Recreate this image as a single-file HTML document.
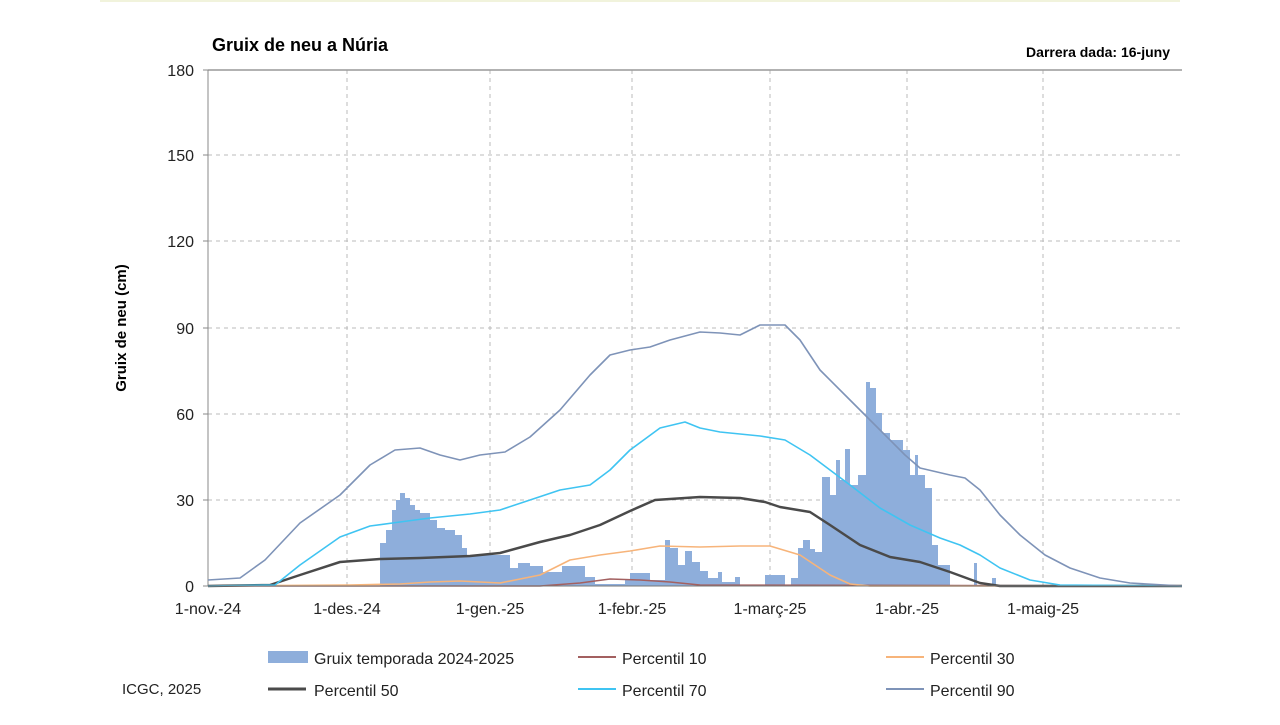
<!DOCTYPE html>
<html><head><meta charset="utf-8"><style>
body{margin:0;background:#fff;width:1280px;height:720px;overflow:hidden;font-family:"Liberation Sans",Arial,sans-serif}
</style></head><body>
<svg width="1280" height="720" xmlns="http://www.w3.org/2000/svg" font-family="Liberation Sans, Arial, sans-serif">
<line x1="100" y1="1" x2="1180" y2="1" stroke="#f1f3dc" stroke-width="2"/>
<text x="212" y="51" font-size="18" font-weight="bold" fill="#000">Gruix de neu a Núria</text>
<text x="1170" y="57" font-size="14" font-weight="bold" text-anchor="end" fill="#000">Darrera dada: 16-juny</text>
<g stroke="#bbb" stroke-dasharray="4,4" stroke-width="1">
<line x1="208" y1="155" x2="1182" y2="155"/><line x1="208" y1="241" x2="1182" y2="241"/>
<line x1="208" y1="328" x2="1182" y2="328"/><line x1="208" y1="414" x2="1182" y2="414"/>
<line x1="208" y1="500" x2="1182" y2="500"/>
<line x1="347" y1="70" x2="347" y2="586"/><line x1="490" y1="70" x2="490" y2="586"/>
<line x1="632" y1="70" x2="632" y2="586"/><line x1="770" y1="70" x2="770" y2="586"/>
<line x1="907" y1="70" x2="907" y2="586"/><line x1="1043" y1="70" x2="1043" y2="586"/>
</g>
<line x1="208" y1="70" x2="1182" y2="70" stroke="#999" stroke-width="1.5"/>
<line x1="208" y1="70" x2="208" y2="586" stroke="#888" stroke-width="1"/>
<g stroke="#888"><line x1="203" y1="70" x2="208" y2="70"/><line x1="203" y1="155" x2="208" y2="155"/><line x1="203" y1="241" x2="208" y2="241"/><line x1="203" y1="328" x2="208" y2="328"/><line x1="203" y1="414" x2="208" y2="414"/><line x1="203" y1="500" x2="208" y2="500"/><line x1="203" y1="586" x2="208" y2="586"/></g>
<g font-size="16" fill="#222" text-anchor="end">
<text x="194" y="76">180</text><text x="194" y="161">150</text><text x="194" y="247">120</text><text x="194" y="334">90</text><text x="194" y="420">60</text><text x="194" y="506">30</text><text x="194" y="592">0</text></g>
<text transform="translate(126,328) rotate(-90)" font-size="15" font-weight="bold" text-anchor="middle">Gruix de neu (cm)</text>
<path fill="#8eaedb" d="M380,586 L380,543 L386,543 L386,530 L392,530 L392,510 L396,510 L396,500 L400,500 L400,493 L405,493 L405,498 L410,498 L410,505 L415,505 L415,510 L420,510 L420,513 L430,513 L430,520 L437,520 L437,528 L445,528 L445,530 L455,530 L455,535 L462,535 L462,548 L467,548 L467,555 L510,555 L510,568 L518,568 L518,563 L530,563 L530,566 L543,566 L543,572 L562,572 L562,566 L585,566 L585,577 L595,577 L595,584 L625,584 L625,580 L630,580 L630,573 L650,573 L650,580 L665,580 L665,540 L670,540 L670,548 L678,548 L678,565 L685,565 L685,551 L692,551 L692,562 L700,562 L700,571 L708,571 L708,578 L718,578 L718,572 L722,572 L722,582 L735,582 L735,577 L740,577 L740,586 L765,586 L765,575 L785,575 L785,586 L791,586 L791,578 L798,578 L798,548 L803,548 L803,540 L810,540 L810,549 L815,549 L815,552 L822,552 L822,477 L830,477 L830,495 L836,495 L836,460 L840,460 L840,480 L845,480 L845,449 L850,449 L850,485 L858,485 L858,475 L866,475 L866,382 L870,382 L870,388 L876,388 L876,413 L882,413 L882,433 L890,433 L890,440 L903,440 L903,450 L910,450 L910,475 L915,475 L915,455 L918,455 L918,475 L925,475 L925,488 L932,488 L932,545 L938,545 L938,565 L950,565 L950,586 Z M974,586 L974,563 L977,563 L977,586 Z M992,586 L992,578 L996,578 L996,586 Z"/>
<g fill="none" stroke-linejoin="round">
<polyline stroke="#a36060" stroke-width="1.5" points="208,586 540,586 580,583 610,579 640,580 670,582 700,585 1182,586"/>
<polyline stroke="#f7b47a" stroke-width="1.6" points="208,586 350,585 400,584 430,582 460,581 500,583 540,575 570,560 600,555 630,551 660,546 700,547 740,546 770,546 800,555 830,575 850,584 870,586 1182,586"/>
<polyline stroke="#4aa9e8" stroke-opacity="0.3" stroke-width="1" points="208,586 1182,586"/>
<polyline stroke="#4a4a4a" stroke-width="2.5" points="208,586 270,585 300,575 340,562 380,559 420,558 470,556 500,553 540,542 570,535 600,525 630,511 655,500 700,497 740,498 765,502 780,507 810,512 830,525 860,545 890,557 920,562 950,572 980,583 1000,586 1182,586"/>
<polyline stroke="#3fc4f2" stroke-width="1.6" points="208,586 275,585 300,565 340,537 370,526 400,522 430,518 470,514 500,510 530,500 560,490 590,485 610,470 630,450 660,428 685,422 700,428 720,432 760,436 785,440 810,455 850,485 880,508 910,525 940,538 960,545 980,555 1000,568 1030,580 1060,585 1182,586"/>
<polyline stroke="#7e93b8" stroke-width="1.6" points="208,580 240,578 265,560 300,523 340,495 370,465 395,450 420,448 440,455 460,460 480,455 505,452 530,437 560,410 590,375 610,355 630,350 650,347 670,340 700,332 720,333 740,335 760,325 785,325 800,340 820,370 850,400 880,430 905,455 920,468 950,475 965,478 980,490 1000,515 1020,535 1045,555 1070,568 1100,578 1130,583 1182,586"/>
</g>
<line x1="208" y1="586" x2="1182" y2="586" stroke="#777" stroke-width="1"/>
<g font-size="16" fill="#222" text-anchor="middle">
<text x="208" y="614">1-nov.-24</text><text x="347" y="614">1-des.-24</text><text x="490" y="614">1-gen.-25</text><text x="632" y="614">1-febr.-25</text><text x="770" y="614">1-març-25</text><text x="907" y="614">1-abr.-25</text><text x="1043" y="614">1-maig-25</text></g>
<g font-size="16" fill="#222">
<rect x="268" y="651" width="40" height="12" fill="#8eaedb"/><text x="314" y="664">Gruix temporada 2024-2025</text>
<line x1="578" y1="657" x2="616" y2="657" stroke="#a36060" stroke-width="2"/><text x="622" y="664">Percentil 10</text>
<line x1="886" y1="657" x2="924" y2="657" stroke="#f7b47a" stroke-width="2"/><text x="930" y="664">Percentil 30</text>
<line x1="268" y1="689" x2="306" y2="689" stroke="#4a4a4a" stroke-width="3"/><text x="314" y="696">Percentil 50</text>
<line x1="578" y1="689" x2="616" y2="689" stroke="#3fc4f2" stroke-width="2"/><text x="622" y="696">Percentil 70</text>
<line x1="886" y1="689" x2="924" y2="689" stroke="#7e93b8" stroke-width="2"/><text x="930" y="696">Percentil 90</text>
<text x="122" y="694" font-size="15">ICGC, 2025</text>
</g>
</svg>
</body></html>
